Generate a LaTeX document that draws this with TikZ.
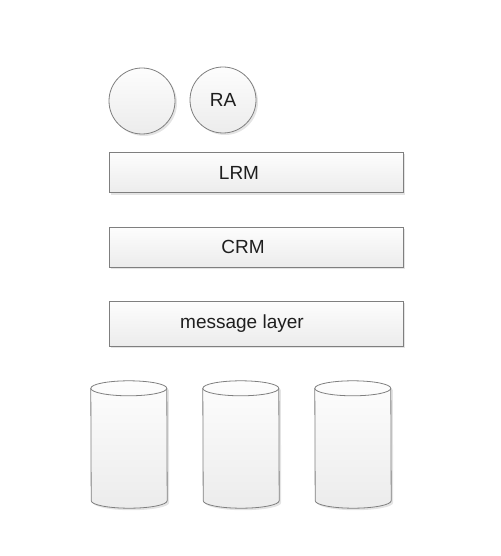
\documentclass[tikz,border=0pt]{standalone}
\usepackage{fontspec}
\setmainfont{Liberation Sans}
\usetikzlibrary{shadows}
\definecolor{EdgeGray}{HTML}{7F7F7F}
\definecolor{FillTop}{HTML}{FDFDFD}
\definecolor{FillBottom}{HTML}{ECECEC}
\definecolor{ShadowGray}{HTML}{E4E4E4}
\definecolor{TextDark}{HTML}{1E1E1E}

\begin{document}
\begin{tikzpicture}[
	x=1pt, y=-1pt,
	box/.style={
		draw=EdgeGray,
		line width=0.8pt,
		top color=FillTop,
		bottom color=FillBottom,
		drop shadow={shadow xshift=2pt, shadow yshift=-2pt, fill=ShadowGray, opacity=1}
	},
	agent/.style={
		box,
		circle,
		minimum size=66,
		inner sep=0pt,
		font=\fontsize{19}{22}\selectfont,
		text=TextDark
	},
	layer/.style={
		box,
		rectangle,
		minimum width=294,
		minimum height=40,
		inner sep=0pt
	},
	lbl/.style={
		font=\fontsize{19}{22}\selectfont,
		text=TextDark
	},
	store/.style={
		rectangle,
		minimum width=76,
		minimum height=127,
		inner sep=0pt
	},
	storeedge/.style={
		draw=EdgeGray,
		line width=0.8pt
	}
]
\useasboundingbox (0,0) rectangle (500,556);

% agents
\node[agent] (blank) at (142,101) {};
\node[agent] (ra) at (223,100) {RA};

% layers
\node[layer, label={[lbl, xshift=-17pt]center:LRM}] (lrm) at (256,172.5) {};
\node[layer, label={[lbl, xshift=-13pt]center:CRM}] (crm) at (256,247) {};
\node[layer, minimum height=45, label={[lbl, xshift=-14pt]center:message layer}] (msg) at (256,323.5) {};

% stores
\foreach \s/\cx in {storeA/129, storeB/241, storeC/353}{
	\node[store] (\s) at (\cx,444.5) {};
	\draw[box] ([yshift=-7.5pt]\s.north west)
		arc[start angle=180, end angle=360, x radius=38, y radius=7.5]
		-- ([yshift=7.5pt]\s.south east)
		arc[start angle=0, end angle=180, x radius=38, y radius=7.5] -- cycle;
	\draw[storeedge] ([yshift=-7.5pt]\s.north west)
		arc[start angle=180, end angle=0, x radius=38, y radius=7.5];
}

\end{tikzpicture}
\end{document}
